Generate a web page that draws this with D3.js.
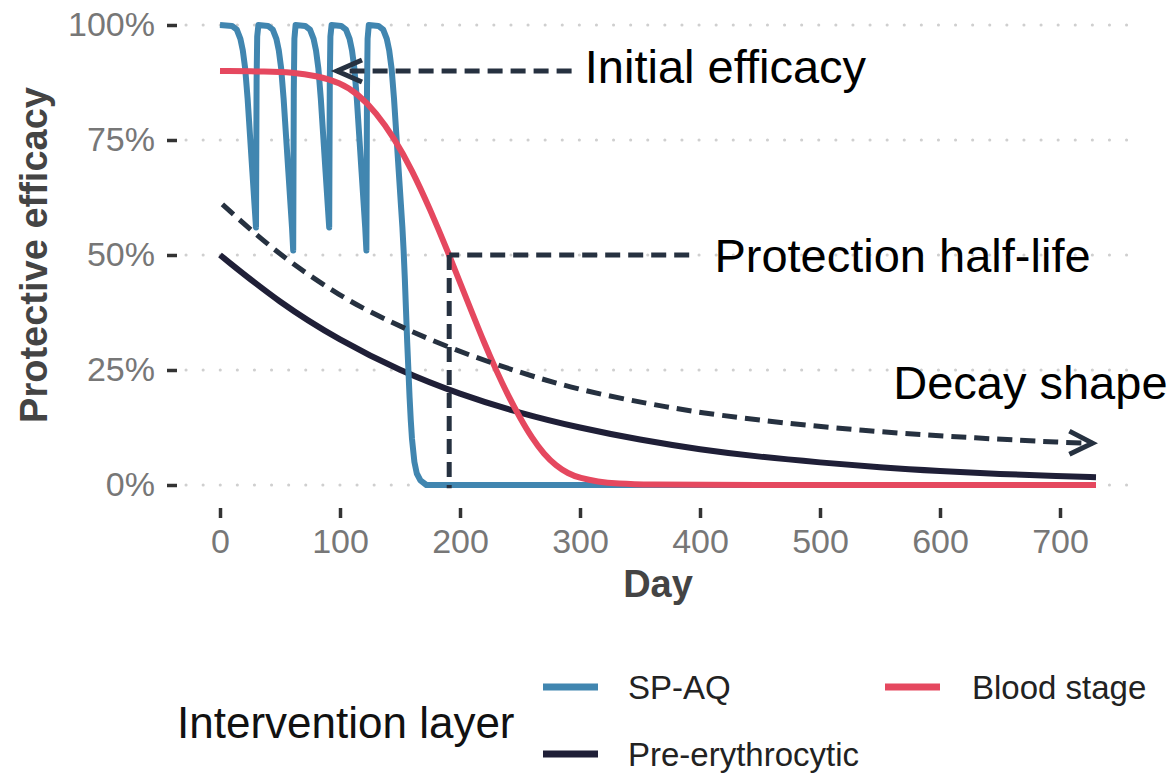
<!DOCTYPE html>
<html>
<head>
<meta charset="utf-8">
<script src="https://d3js.org/d3.v7.min.js"></script>
<style>
  body { margin: 0; background: #fff; }
  text { font-family: "Liberation Sans", Arial, sans-serif; }
</style>
</head>
<body>
<div id="chart"></div>
<script>
// ---- data (day, efficacy) ----
var xTicks = [0, 100, 200, 300, 400, 500, 600, 700];
var yTicks = [0, 0.25, 0.5, 0.75, 1];

// SP-AQ: monthly doses, near-instant reset to 100%
var spaq = [
  [0,1],[10,0.998],[14,0.99],[17,0.97],[19,0.945],[21,0.905],[23,0.84],[25,0.76],[27,0.68],[29,0.60],[30,0.56],
  [30.5,0.88],[31,0.975],[32,1],
  [40,0.998],[44,0.99],[47,0.97],[49,0.945],[51,0.905],[53,0.84],[55,0.76],[57,0.68],[59,0.60],[60,0.56],[61,0.51],
  [61.5,0.86],[62,0.97],[63,1],
  [71,0.998],[75,0.99],[78,0.97],[80,0.945],[82,0.905],[84,0.84],[86,0.76],[88,0.68],[90,0.60],[91,0.56],
  [91.5,0.88],[92,0.975],[93,1],
  [101,0.998],[105,0.99],[108,0.97],[110,0.945],[112,0.905],[114,0.84],[116,0.76],[118,0.68],[120,0.60],[121,0.56],[122,0.51],
  [122.5,0.86],[123,0.97],[124,1],
  [132,0.998],[136,0.99],[139,0.97],[141,0.945],[143,0.905],[145,0.84],[147,0.76],[149,0.68],[151,0.60],[152,0.56],
  [153,0.51],[154,0.45],[155,0.38],[156,0.31],[157,0.25],[158,0.19],[159,0.14],[160,0.10],[162,0.05],[164,0.025],[167,0.01],[172,0],[730,0]
];

var bloodStage = [
  [0,0.90],[40,0.899],[60,0.897],[80,0.89],[100,0.875],[115,0.85],[130,0.81],[145,0.755],[160,0.685],[175,0.60],
  [191,0.50],[200,0.44],[210,0.375],[220,0.31],[230,0.25],[240,0.195],[250,0.146],[260,0.102],[270,0.067],
  [280,0.042],[290,0.025],[300,0.015],[315,0.007],[330,0.003],[360,0.0005],[400,0],[730,0]
];

var preEryth = [
  [0,0.50],[50,0.395],[100,0.314],[150,0.248],[200,0.197],[250,0.156],[300,0.124],[350,0.098],[400,0.077],
  [450,0.061],[500,0.049],[550,0.038],[600,0.030],[650,0.024],[700,0.019],[730,0.017]
];

// dashed "decay shape" guide
var decayGuide = [
  [2,0.61],[30,0.544],[60,0.481],[100,0.411],[133,0.365],[190,0.298],[250,0.244],[300,0.206],[356,0.177],
  [400,0.157],[467,0.135],[550,0.115],[630,0.102],[706,0.092],[727,0.091]
];

var initialArrow = [[293,0.90],[97.5,0.90]];
var halfLifeH = [[391,0.5],[191,0.5]];
var halfLifeV = [[191,0.5],[191,-0.007]];

var legendItems = ["SP-AQ", "Blood stage", "Pre-erythrocytic"];
var colors = {"SP-AQ": "#4186b0", "Blood stage": "#e5485f", "Pre-erythrocytic": "#1f1f37"};

// ---- layout ----
var W = 1175, H = 774;
var svg = d3.select("#chart").append("svg")
  .attr("width", W).attr("height", H)
  .style("background", "#fff");

var x = d3.scaleLinear().domain([0, 730]).range([220, 1096]);
var y = d3.scaleLinear().domain([0, 1]).range([485, 25]);

// grid (dotted)
svg.append("g").selectAll("line")
  .data(yTicks).enter().append("line")
  .attr("x1", 186).attr("x2", 1136)
  .attr("y1", function(d) { return y(d); })
  .attr("y2", function(d) { return y(d); })
  .style("stroke", "#cfcfcf")
  .style("stroke-width", 3)
  .style("stroke-linecap", "round")
  .style("stroke-dasharray", "0.1,17");

// axes
var xAxis = svg.append("g")
  .attr("transform", "translate(0,508)")
  .call(d3.axisBottom(x).tickValues(xTicks).tickSize(10).tickPadding(11));
var yAxis = svg.append("g")
  .attr("transform", "translate(177,0)")
  .call(d3.axisLeft(y).tickValues(yTicks).tickSize(10).tickPadding(12)
    .tickFormat(d3.format(".0%")));

[xAxis, yAxis].forEach(function(a) {
  a.select(".domain").remove();
  a.selectAll(".tick line").style("stroke", "#333").style("stroke-width", 3.5);
  a.selectAll(".tick text")
    .style("font-size", "34px")
    .style("fill", "#777")
    .style("font-family", '"Liberation Sans", Arial, sans-serif');
});

svg.append("text")
  .attr("x", 658).attr("y", 597)
  .attr("text-anchor", "middle")
  .style("font-size", "38px").style("font-weight", "bold").style("fill", "#444")
  .text("Day");

svg.append("text")
  .attr("transform", "translate(47,255) rotate(-90)")
  .attr("text-anchor", "middle")
  .style("font-size", "38px").style("font-weight", "bold").style("fill", "#444")
  .text("Protective efficacy");

// curves
var smooth = d3.line()
  .x(function(d) { return x(d[0]); })
  .y(function(d) { return y(d[1]); })
  .curve(d3.curveBasis);
var straight = d3.line()
  .x(function(d) { return x(d[0]); })
  .y(function(d) { return y(d[1]); });

svg.append("path").datum(preEryth)
  .attr("d", smooth)
  .style("fill", "none").style("stroke", colors["Pre-erythrocytic"])
  .style("stroke-width", 6);

svg.append("path").datum(spaq)
  .attr("d", straight)
  .style("fill", "none").style("stroke", colors["SP-AQ"])
  .style("stroke-width", 6).style("stroke-linejoin", "round");

svg.append("path").datum(bloodStage)
  .attr("d", smooth)
  .style("fill", "none").style("stroke", colors["Blood stage"])
  .style("stroke-width", 6);

// annotations
var annColor = "#263140";
function dashed(data, fn) {
  svg.append("path").datum(data)
    .attr("d", fn)
    .style("fill", "none").style("stroke", annColor)
    .style("stroke-width", 5)
    .style("stroke-dasharray", "15,8");
}
function chevron(tip, dx, dy1, dy2) {
  var tx = x(tip[0]), ty = y(tip[1]);
  svg.append("path")
    .attr("d", "M" + (tx + dx) + "," + (ty + dy1) + "L" + tx + "," + ty + "L" + (tx + dx) + "," + (ty + dy2))
    .style("fill", "none").style("stroke", annColor)
    .style("stroke-width", 5).style("stroke-linejoin", "miter");
}

dashed(initialArrow, straight);
chevron(initialArrow[1], 25, -11, 11);

dashed(halfLifeH, straight);
dashed(halfLifeV, straight);

dashed(decayGuide, smooth);
chevron(decayGuide[decayGuide.length - 1], -23, -12, 11);

var annText = [
  {label: "Initial efficacy", day: 304, v: 0.875},
  {label: "Protection half-life", day: 412, v: 0.462},
  {label: "Decay shape", day: 561, v: 0.187}
];
svg.append("g").selectAll("text")
  .data(annText).enter().append("text")
  .attr("x", function(d) { return x(d.day); })
  .attr("y", function(d) { return y(d.v); })
  .style("font-size", "47px").style("fill", "#000")
  .text(function(d) { return d.label; });

// legend
svg.append("text")
  .attr("x", 177).attr("y", 738)
  .style("font-size", "44px").style("fill", "#111")
  .text("Intervention layer");

var legPos = [[543, 687], [885, 687], [543, 754]];
var leg = svg.append("g").selectAll("g")
  .data(legendItems).enter().append("g")
  .attr("transform", function(d, i) { return "translate(" + legPos[i][0] + "," + legPos[i][1] + ")"; });
leg.append("line")
  .attr("x1", 0).attr("x2", 55).attr("y1", 0).attr("y2", 0)
  .style("stroke", function(d) { return colors[d]; })
  .style("stroke-width", 7);
leg.append("text")
  .attr("x", function(d, i) { return i == 1 ? 87 : 85; })
  .attr("y", 0).attr("dy", "0.36em")
  .style("font-size", "33px").style("fill", "#222")
  .text(function(d) { return d; });
</script>
</body>
</html>
